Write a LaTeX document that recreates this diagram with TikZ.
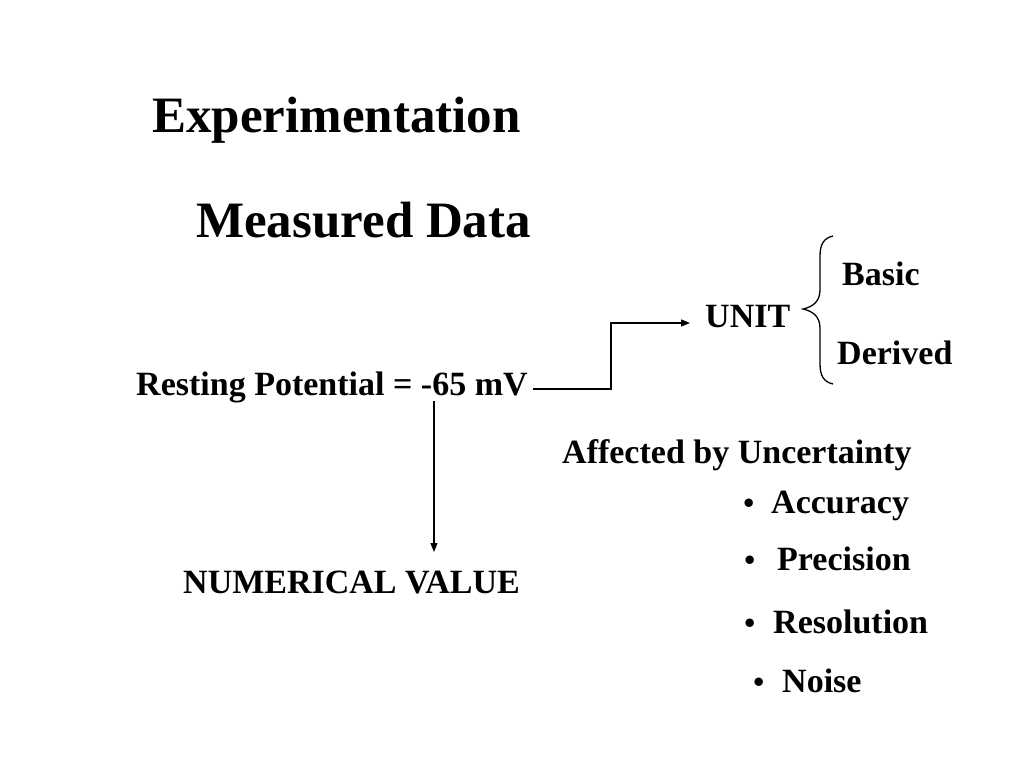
\documentclass[tikz,border=0pt]{standalone}
\usepackage{fontspec}
\setmainfont{Liberation Serif}
\usetikzlibrary{arrows.meta}
\newcommand{\mybul}[1]{\llap{{\fontsize{31}{34}\selectfont\bfseries •}\hspace{#1}}}
\begin{document}
\begin{tikzpicture}[x=1pt,y=-1pt,
  big/.style={anchor=base west,inner sep=0pt,font=\fontsize{51}{60}\selectfont\bfseries},
  txt/.style={anchor=base west,inner sep=0pt,font=\fontsize{34}{40}\selectfont\bfseries},
  conn/.style={line width=1.3pt,-{Triangle[length=9pt,width=7pt]}},
  plain/.style={line width=1.3pt}]
\useasboundingbox (0,0) rectangle (1024,768);
\fill[white] (0,0) rectangle (1024,768);
\node[big] (exp) at (152,132) {Experimentation};
\node[big] (meas) at (196,237) {Measured Data};
\node[txt] (rest) at (136,395) {Resting Potential = -65 mV};
\node[txt] (unit) at (705,327) {UNIT};
\node[txt] (basic) at (842,285) {Basic};
\node[txt] (der) at (837,364) {Derived};
\node[txt] (aff) at (562,463) {Affected by Uncertainty};
\node[txt] (acc) at (771,513) {\mybul{17pt}Accuracy};
\node[txt] (prec) at (777,570) {\mybul{22pt}Precision};
\node[txt] (res) at (773,633) {\mybul{18pt}Resolution};
\node[txt] (noise) at (782,692) {\mybul{18pt}Noise};
\node[txt] (num) at (183,593) {NUMERICAL VALUE};
% connectors
\coordinate (bend) at (611,0);
\coordinate (vx) at (434,0);
\draw[conn] ([xshift=5pt,yshift=6pt]rest.base east) -- ([yshift=6pt]rest.base east -| bend) |- ([xshift=-15pt,yshift=4pt]unit.base west);
\draw[conn] ([yshift=-6pt]rest.base -| vx) -- ([yshift=41pt]num.base -| vx);
% brace
\draw[line width=1.3pt] (833,236) .. controls (824,238) and (820,244) .. (820,256)
  -- (820,290) .. controls (820,302) and (812,307) .. (803,309)
  .. controls (812,311) and (820,316) .. (820,328)
  -- (820,364) .. controls (820,376) and (824,382) .. (833,384);
\end{tikzpicture}
\end{document}
